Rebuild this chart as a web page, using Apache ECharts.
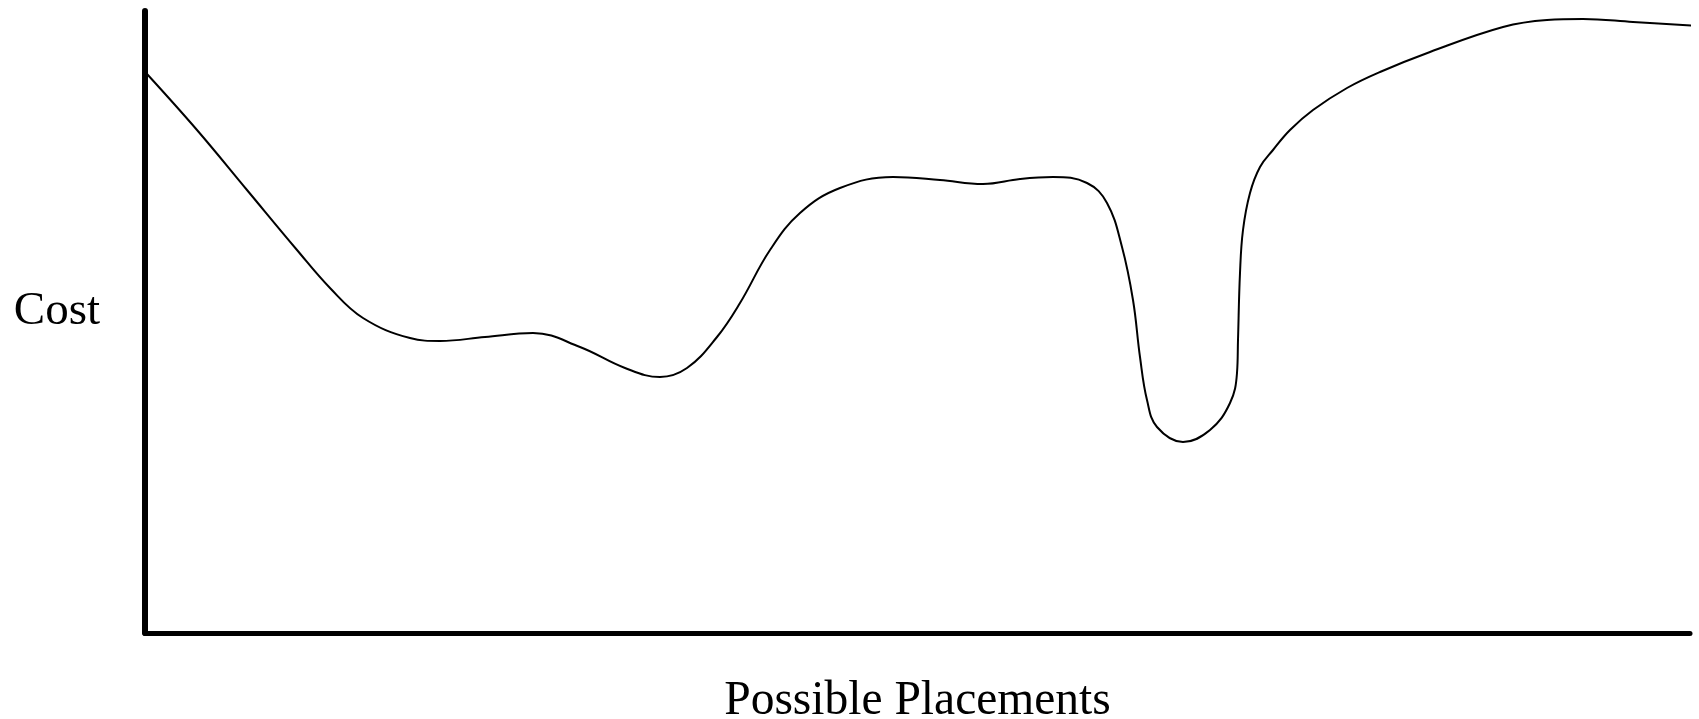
<!DOCTYPE html>
<html>
<head>
<meta charset="utf-8">
<script src="https://cdn.jsdelivr.net/npm/echarts@6/dist/echarts.min.js"></script>
<style>
html,body{margin:0;padding:0;background:#fff;}
#chart{width:1699px;height:719px;}
</style>
</head>
<body>
<div id="chart"></div>
<script>
// Possible placement positions (x) and cost values (y)
const placements = [2, 52, 102, 152, 185, 218, 265, 295, 340, 388, 435, 480, 515, 542, 572, 595, 625, 655, 695, 748, 795, 838, 875, 908, 942, 962, 977, 988, 995, 1002, 1012, 1038, 1065, 1085, 1092, 1093, 1095, 1098, 1105, 1115, 1128, 1145, 1168, 1202, 1235, 1285, 1358, 1402, 1438, 1488, 1553];
const costs      = [559, 503, 443, 383, 345, 315, 295, 292, 296, 300, 286, 265, 256, 265, 296, 330, 383, 420, 445, 456, 453, 449, 454, 456, 450, 430, 386, 333, 276, 233, 206, 191, 203, 230, 260, 293, 360, 403, 440, 466, 483, 503, 523, 545, 561, 581, 606, 613, 614, 611, 607];
const xLabel = 'Possible Placements';
const yLabel = 'Cost';

const chart = echarts.init(document.getElementById('chart'));
const font = '"Liberation Serif", "Times New Roman", serif';
chart.setOption({
  animation: false,
  backgroundColor: '#fff',
  grid: { left: 145, right: 9, top: 11, bottom: 86, containLabel: false, outerBoundsMode: 'none' },
  xAxis: {
    type: 'value', min: 0, max: 1545,
    name: xLabel, nameLocation: 'middle', nameGap: 45,
    nameTextStyle: { fontFamily: font, fontSize: 47.5, color: '#000' },
    axisLine: { show: true, lineStyle: { color: '#000', width: 5 } },
    axisTick: { show: false }, axisLabel: { show: false }, splitLine: { show: false }
  },
  yAxis: {
    type: 'value', min: 0, max: 622,
    name: yLabel, nameLocation: 'middle', nameGap: 45, nameRotate: 0,
    nameTextStyle: { fontFamily: font, fontSize: 47, color: '#000', verticalAlign: 'bottom', lineHeight: 20 },
    axisLine: { show: true, lineStyle: { color: '#000', width: 6 } },
    axisTick: { show: false }, axisLabel: { show: false }, splitLine: { show: false }
  },
  series: [{
    type: 'line',
    data: placements.map((x, i) => [x, costs[i]]),
    smooth: 0.4,
    clip: false,
    symbol: 'none',
    lineStyle: { color: '#000', width: 2 }
  }]
});
</script>
</body>
</html>
